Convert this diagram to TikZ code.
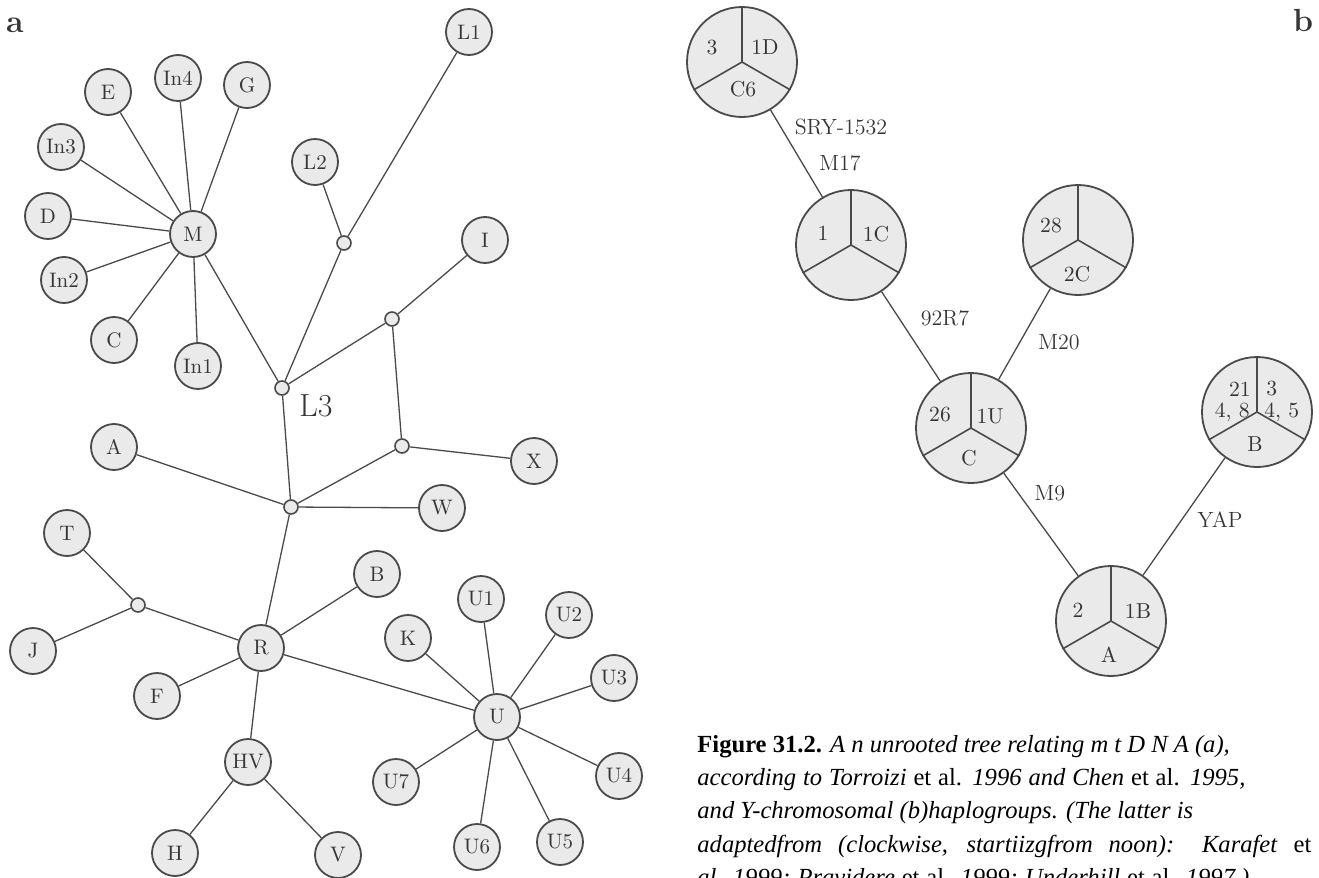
\documentclass[tikz,border=0pt]{standalone}
\usepackage{fontspec}
\newfontfamily\capfont{Liberation Serif}
\definecolor{ln}{HTML}{4A4A4A}
\definecolor{fl}{HTML}{EAEAEA}
\definecolor{txt}{HTML}{363636}
\begin{document}
\begin{tikzpicture}[x=0.5pt,y=-0.5pt,
  nd/.style={circle,draw=ln,fill=fl,line width=0.9pt,minimum size=23pt,inner sep=0pt,text=txt,font=\fontsize{10.5}{10}\selectfont},
  jn/.style={circle,draw=ln,fill=fl,line width=0.8pt,minimum size=7pt,inner sep=0pt},
  ed/.style={draw=ln,line width=0.65pt},
  pie/.style={circle,draw=ln,fill=fl,line width=0.9pt,minimum size=55pt,inner sep=0pt},
  pl/.style={text=txt,font=\fontsize{10.8}{9}\selectfont,inner sep=0pt},
  el/.style={text=txt,font=\fontsize{11}{12}\selectfont,inner sep=0pt},
  captxt/.style={anchor=base west,inner sep=0pt,font=\capfont\fontsize{12.3}{15}\selectfont}
]
\useasboundingbox (0,0) rectangle (1319,878);
\clip (0,0) rectangle (1319,878);
% ---------- part a ----------
\node[font=\bfseries\fontsize{16}{16}\selectfont,text=txt] (la) at (15,25) {a};
\node[nd] (M) at (193,234) {M};
\node[nd] (E) at (108,92) {E};
\node[nd] (In4) at (178,78) {In4};
\node[nd] (G) at (247,85) {G};
\node[nd] (In3) at (61,147) {In3};
\node[nd] (D) at (48,216) {D};
\node[nd] (In2) at (64,280) {In2};
\node[nd] (C) at (114,340) {C};
\node[nd] (In1) at (198,366) {In1};
\node[jn] (L3) at (282,388) {};
\node[text=txt,font=\fontsize{16}{16}\selectfont,inner sep=0pt] (L3t) at (316,406) {L3};
\node[nd] (L2) at (315,162) {L2};
\node[jn] (j1) at (344,243) {};
\node[nd] (L1) at (469,32) {L1};
\node[nd] (I) at (485,240) {I};
\node[jn] (j2) at (392,319) {};
\node[jn] (j3) at (402,446) {};
\node[nd] (X) at (534,461) {X};
\node[jn] (j4) at (291,507) {};
\node[nd] (A) at (114,447) {A};
\node[nd] (W) at (442,508) {W};
\node[nd] (R) at (261,648) {R};
\node[nd] (B) at (377,574) {B};
\node[jn] (j5) at (138,605) {};
\node[nd] (T) at (67,533) {T};
\node[nd] (J) at (33,651) {J};
\node[nd] (F) at (157,696) {F};
\node[nd] (HV) at (248,762) {HV};
\node[nd] (H) at (175,853) {H};
\node[nd] (V) at (338,855) {V};
\node[nd] (U) at (497,717) {U};
\node[nd] (U1) at (481,599) {U1};
\node[nd] (U2) at (569,615) {U2};
\node[nd] (U3) at (614,678) {U3};
\node[nd] (U4) at (619,776) {U4};
\node[nd] (U5) at (560,842) {U5};
\node[nd] (U6) at (477,847) {U6};
\node[nd] (U7) at (396,782) {U7};
\node[nd] (K) at (408,638) {K};
\foreach \n in {E,In4,G,In3,D,In2,C,In1,L3} \draw[ed] (M) -- (\n);
\draw[ed] (L3) -- (j1); \draw[ed] (j1) -- (L2); \draw[ed] (j1) -- (L1);
\draw[ed] (L3) -- (j2); \draw[ed] (j2) -- (I); \draw[ed] (j2) -- (j3);
\draw[ed] (j3) -- (X); \draw[ed] (j3) -- (j4); \draw[ed] (L3) -- (j4);
\draw[ed] (j4) -- (A); \draw[ed] (j4) -- (W); \draw[ed] (j4) -- (R);
\draw[ed] (R) -- (B); \draw[ed] (R) -- (j5); \draw[ed] (j5) -- (T); \draw[ed] (j5) -- (J);
\draw[ed] (R) -- (F); \draw[ed] (R) -- (HV); \draw[ed] (HV) -- (H); \draw[ed] (HV) -- (V);
\draw[ed] (R) -- (U);
\foreach \n in {K,U1,U2,U3,U4,U5,U6,U7} \draw[ed] (U) -- (\n);
% ---------- part b ----------
\node[font=\bfseries\fontsize{16}{16}\selectfont,text=txt] (lb) at (1303,20) {b};
\foreach \p/\x/\y in {p1/742/62, p2/851/245, p3/1078/240, pC/971/428, pB/1257/412, pA/1111/621}{
  \node[pie] (\p) at (\x,\y) {};
  \draw[ed,line width=0.8pt] (\p.center) -- (\p.90);
  \draw[ed,line width=0.8pt] (\p.center) -- (\p.210);
  \draw[ed,line width=0.8pt] (\p.center) -- (\p.330);
}
\node[pl] (t1a) at (712,48) {3};
\node[pl] (t1b) at (765,47) {1D};
\node[pl] (t1c) at (743,89) {C6};
\node[pl] (t2a) at (823,233) {1};
\node[pl] (t2b) at (876,234) {1C};
\node[pl] (t3a) at (1051,226) {28};
\node[pl] (t3c) at (1077,274) {2C};
\node[pl] (tCa) at (940,415) {26};
\node[pl] (tCb) at (990,416) {1U};
\node[pl] (tCc) at (969,458) {C};
\node[pl,anchor=east] (tBa) at (1251,389) {21};
\node[pl,anchor=east] (tBa2) at (1250,412) {4, 8};
\node[pl,anchor=west] (tBb) at (1266,389) {3};
\node[pl,anchor=west] (tBb2) at (1264,412) {4, 5};
\node[pl] (tBc) at (1255,444) {B};
\node[pl] (tAa) at (1078,610) {2};
\node[pl] (tAb) at (1138,611) {1B};
\node[pl] (tAc) at (1109,655) {A};
\draw[ed] (p1) -- (p2);
\draw[ed] (p2) -- (pC);
\draw[ed] (p3) -- (pC);
\draw[ed] (pC) -- (pA);
\draw[ed] (pA) -- (pB);
\node[el] (e1) at (841,127) {SRY-1532};
\node[el] (e2) at (840,163) {M17};
\node[el] (e3) at (945,318) {92R7};
\node[el] (e4) at (1059,342) {M20};
\node[el] (e5) at (1050,493) {M9};
\node[el] (e6) at (1220,520) {YAP};
% ---------- caption ----------
\node[captxt] (c1) at (697,752) {\textbf{Figure 31.2.} \textit{A n unrooted tree relating m t D N A (a),}};
\node[captxt] (c2) at (697,785) {\hbox to 274pt{\textit{according to Torroizi} et al. \textit{1996 and Chen} et al. \textit{1995,}}};
\node[captxt] (c3) at (697,818) {\textit{and Y-chromosomal (b)haplogroups. (The latter is}};
\node[captxt] (c4) at (697,852) {\hbox to 307pt{\textit{adaptedfrom (clockwise, startiizgfrom noon): Karafet} et}};
\node[captxt] (c5) at (697,885) {\hbox to 276pt{\textit{al. 1999; Pravidere} et al. \textit{1999; Underhill} et al. \textit{1997.)}}};
\end{tikzpicture}
\end{document}
